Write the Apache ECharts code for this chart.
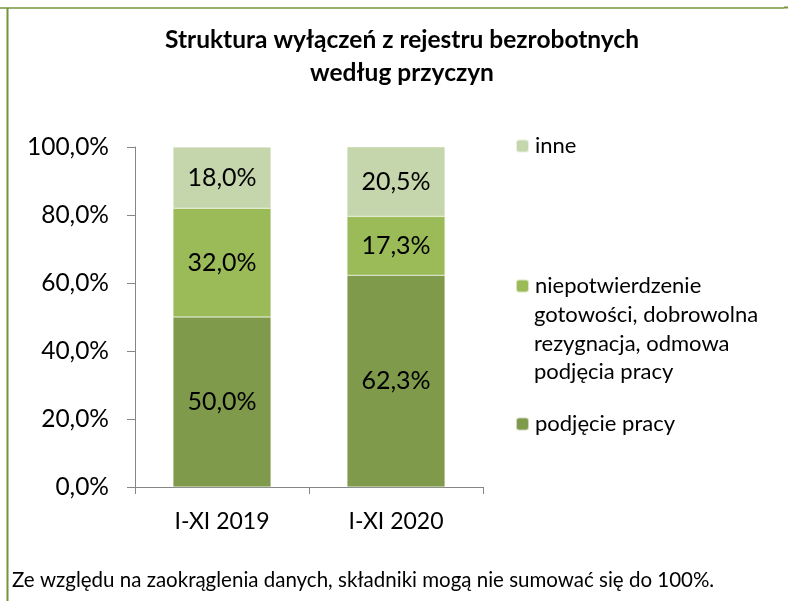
<!DOCTYPE html>
<html lang="pl">
<head>
    <meta charset="utf-8" />
    <script src="https://cdn.jsdelivr.net/npm/echarts@6/dist/echarts.min.js"></script>
</head>
<body style="margin: 0; background: #fff">
    <div id="container" style="width: 788px; height: 601px;"></div>
    <script type="text/javascript">
        var dom = document.getElementById('container');
        var myChart = echarts.init(dom, null, { renderer: 'canvas' });

        // dane
        const categories = ['I-XI 2019', 'I-XI 2020'];
        const seriesNames = [
            'podjęcie pracy',
            'niepotwierdzenie gotowości, dobrowolna rezygnacja, odmowa podjęcia pracy',
            'inne'
        ];
        const data_podjecie = [50.0, 62.3];
        const data_niepotw = [32.0, 17.3];
        const data_inne = [18.0, 20.5];
        const colors = ['#7E9A4A', '#9BBB59', '#C6D6AC'];

        const font = 'Lato, "Open Sans", sans-serif';
        const fmt = function (v) {
            return v.toFixed(1).replace('.', ',') + '%';
        };

        function makeSeries(name, data, color) {
            return {
                name: name,
                type: 'bar',
                stack: 'total',
                barWidth: 98,
                data: data,
                itemStyle: {
                    color: color,
                    borderColor: 'rgba(255,255,255,0.6)',
                    borderWidth: 0.5
                },
                label: {
                    show: true,
                    position: 'inside',
                    color: '#000',
                    fontFamily: font,
                    fontSize: 25,
                    formatter: function (p) { return fmt(p.value); }
                }
            };
        }

        const legendText = { fontFamily: font, fontSize: 22, color: '#000', padding: [0, 0, 0, 1] };

        var option = {
            backgroundColor: '#fff',
            animation: false,
            title: {
                text: 'Struktura wyłączeń z rejestru bezrobotnych\nwedług przyczyn',
                left: 402,
                top: 24,
                padding: 0,
                textAlign: 'center',
                textStyle: {
                    fontFamily: font,
                    fontSize: 24.5,
                    fontWeight: 'bold',
                    color: '#000',
                    lineHeight: 33
                }
            },
            grid: {
                left: 135,
                right: 305,
                top: 147,
                bottom: 114
            },
            legend: [
                {
                    data: [seriesNames[2]],
                    left: 515,
                    top: 135,
                    padding: 0,
                    itemWidth: 13,
                    itemHeight: 13,
                    textStyle: legendText
                },
                {
                    data: [seriesNames[1]],
                    left: 515,
                    top: 275,
                    padding: 0,
                    itemWidth: 13,
                    itemHeight: 13,
                    formatter: function () { return 'niepotwierdzenie'; },
                    textStyle: legendText
                },
                {
                    data: [seriesNames[0]],
                    left: 515,
                    top: 413,
                    padding: 0,
                    itemWidth: 13,
                    itemHeight: 13,
                    textStyle: legendText
                }
            ],
            xAxis: {
                type: 'category',
                data: categories,
                axisLine: { lineStyle: { color: '#868686', width: 1 } },
                axisTick: { show: true, length: 7, lineStyle: { color: '#868686' } },
                axisLabel: {
                    color: '#000',
                    fontFamily: font,
                    fontSize: 23,
                    margin: 23
                }
            },
            yAxis: {
                type: 'value',
                min: 0,
                max: 100,
                interval: 20,
                axisLine: { show: true, lineStyle: { color: '#868686', width: 1 } },
                axisTick: { show: true, length: 8, lineStyle: { color: '#868686' } },
                splitLine: { show: false },
                axisLabel: {
                    color: '#000',
                    fontFamily: font,
                    fontSize: 24.5,
                    margin: 26,
                    formatter: function (v) { return fmt(v); }
                }
            },
            series: [
                makeSeries(seriesNames[0], data_podjecie, colors[0]),
                makeSeries(seriesNames[1], data_niepotw, colors[1]),
                makeSeries(seriesNames[2], data_inne, colors[2])
            ],
            graphic: [
                // ramka
                { type: 'line', shape: { x1: 0, y1: 8, x2: 784, y2: 8 }, style: { stroke: '#77933C', lineWidth: 1.5 } },
                { type: 'line', shape: { x1: 784, y1: 7.5, x2: 788, y2: 7.5 }, style: { stroke: '#77933C', lineWidth: 2 } },
                { type: 'line', shape: { x1: 7.5, y1: 8, x2: 7.5, y2: 601 }, style: { stroke: '#77933C', lineWidth: 2 } },
                // dalsze wiersze legendy
                {
                    type: 'text',
                    left: 534,
                    top: 300.5,
                    style: {
                        text: 'gotowości, dobrowolna\nrezygnacja, odmowa\npodjęcia pracy',
                        font: '22px ' + font,
                        fill: '#000',
                        lineHeight: 28.7
                    }
                },
                // przypis
                {
                    type: 'text',
                    left: 12,
                    top: 570,
                    style: {
                        text: 'Ze względu na zaokrąglenia danych, składniki mogą nie sumować się do 100%.',
                        font: '20.5px ' + font,
                        fill: '#000'
                    }
                }
            ]
        };

        myChart.setOption(option);
        window.addEventListener('resize', myChart.resize);
    </script>
</body>
</html>
